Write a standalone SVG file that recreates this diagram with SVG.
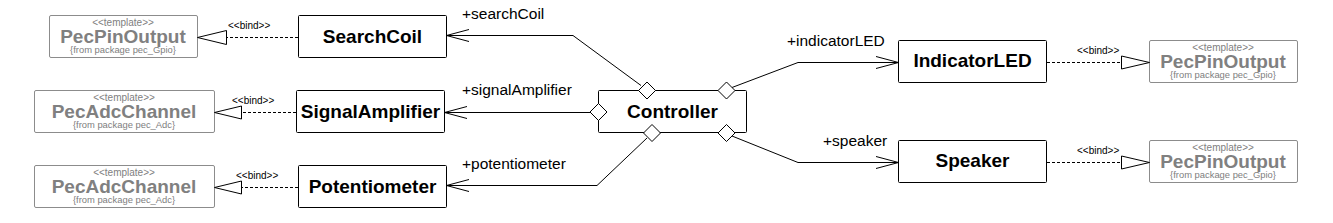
<svg xmlns="http://www.w3.org/2000/svg" width="1333" height="223" viewBox="0 0 1333 223">
<style>
  .node { fill: #ffffff; stroke: #000000; stroke-width: 1; }
  .tpl { fill: #ffffff; stroke: #8c8c8c; stroke-width: 1; }
  .name { font-family: "Liberation Sans", Arial, sans-serif; font-weight: bold; font-size: 19px; fill: #000000; text-anchor: middle; }
  .tname { font-family: "Liberation Sans", Arial, sans-serif; font-weight: bold; font-size: 19px; fill: #808080; text-anchor: middle; }
  .ster { font-family: "Liberation Sans", Arial, sans-serif; font-size: 10px; fill: #808080; text-anchor: middle; }
  .pkg { font-family: "Liberation Sans", Arial, sans-serif; font-size: 9.4px; fill: #808080; text-anchor: middle; }
  .role { font-family: "Liberation Sans", Arial, sans-serif; font-size: 15.5px; fill: #000000; }
  .bind { font-family: "Liberation Sans", Arial, sans-serif; font-size: 10px; fill: #000000; }
  .line { fill: none; stroke: #000000; stroke-width: 1; }
  .dash { fill: none; stroke: #000000; stroke-width: 1; stroke-dasharray: 3 2; }
  .tri { fill: #ffffff; stroke: #000000; stroke-width: 1; }
  .dia { fill: #ffffff; stroke: #000000; stroke-width: 1; }
</style>

<g id="tpl-pinoutput-1">
  <rect class="tpl" x="49.5" y="15.5" width="148" height="42" rx="1.5"/>
  <text class="ster" x="123" y="26">&lt;&lt;template&gt;&gt;</text>
  <text class="tname" x="123" y="42.5">PecPinOutput</text>
  <text class="pkg" x="123" y="53">{from package pec_Gpio}</text>
</g>
<g id="tpl-adcchannel-1">
  <rect class="tpl" x="34.5" y="90.5" width="180" height="42" rx="1.5"/>
  <text class="ster" x="124" y="101">&lt;&lt;template&gt;&gt;</text>
  <text class="tname" x="124" y="117.5">PecAdcChannel</text>
  <text class="pkg" x="124" y="128">{from package pec_Adc}</text>
</g>
<g id="tpl-adcchannel-2">
  <rect class="tpl" x="34.5" y="165.5" width="180" height="42" rx="1.5"/>
  <text class="ster" x="124" y="176">&lt;&lt;template&gt;&gt;</text>
  <text class="tname" x="124" y="192.5">PecAdcChannel</text>
  <text class="pkg" x="124" y="203">{from package pec_Adc}</text>
</g>
<g id="tpl-pinoutput-2">
  <rect class="tpl" x="1149.5" y="40.5" width="148" height="42" rx="1.5"/>
  <text class="ster" x="1223" y="51">&lt;&lt;template&gt;&gt;</text>
  <text class="tname" x="1223" y="67.5">PecPinOutput</text>
  <text class="pkg" x="1223" y="78">{from package pec_Gpio}</text>
</g>
<g id="tpl-pinoutput-3">
  <rect class="tpl" x="1149.5" y="140.5" width="148" height="42" rx="1.5"/>
  <text class="ster" x="1223" y="151">&lt;&lt;template&gt;&gt;</text>
  <text class="tname" x="1223" y="167.5">PecPinOutput</text>
  <text class="pkg" x="1223" y="178">{from package pec_Gpio}</text>
</g>

<g id="SearchCoil">
  <rect class="node" x="298.5" y="15.5" width="148" height="42" rx="1"/>
  <text class="name" x="372.5" y="43">SearchCoil</text>
</g>
<g id="SignalAmplifier">
  <rect class="node" x="296.5" y="90.5" width="148" height="42" rx="1"/>
  <text class="name" x="370.5" y="117.5">SignalAmplifier</text>
</g>
<g id="Potentiometer">
  <rect class="node" x="298.5" y="165.5" width="148" height="42" rx="1"/>
  <text class="name" x="372.5" y="192.5">Potentiometer</text>
</g>
<g id="Controller">
  <rect class="node" x="598.5" y="90.5" width="148" height="42" rx="1"/>
  <text class="name" x="672.5" y="117.5">Controller</text>
</g>
<g id="IndicatorLED">
  <rect class="node" x="898.5" y="40.5" width="148" height="42" rx="1"/>
  <text class="name" x="972.5" y="67">IndicatorLED</text>
</g>
<g id="Speaker">
  <rect class="node" x="898.5" y="140.5" width="148" height="42" rx="1"/>
  <text class="name" x="972.5" y="167">Speaker</text>
</g>

<g id="connectors">
  <!-- bind dependencies -->
  <line class="dash" x1="298" y1="37.5" x2="226.5" y2="37.5"/>
  <polygon class="tri" points="197.5,37.5 226.5,30.5 226.5,44.5"/>
  <text class="bind" x="228" y="29">&lt;&lt;bind&gt;&gt;</text>

  <line class="dash" x1="296" y1="112.5" x2="241.5" y2="112.5"/>
  <polygon class="tri" points="214.5,112.5 241.5,106 241.5,119"/>
  <text class="bind" x="232" y="104">&lt;&lt;bind&gt;&gt;</text>

  <line class="dash" x1="298" y1="187.5" x2="241.5" y2="187.5"/>
  <polygon class="tri" points="214.5,187.5 241.5,181 241.5,194"/>
  <text class="bind" x="236" y="179">&lt;&lt;bind&gt;&gt;</text>

  <line class="dash" x1="1047" y1="62.5" x2="1121.5" y2="62.5"/>
  <polygon class="tri" points="1149.5,62.5 1121.5,56 1121.5,69"/>
  <text class="bind" x="1077" y="54">&lt;&lt;bind&gt;&gt;</text>

  <line class="dash" x1="1047" y1="162.5" x2="1121.5" y2="162.5"/>
  <polygon class="tri" points="1149.5,162.5 1121.5,156 1121.5,169"/>
  <text class="bind" x="1077" y="154">&lt;&lt;bind&gt;&gt;</text>

  <!-- aggregations -->
  <polyline class="line" points="641,85.5 573,35.5 446.5,35.5"/>
  <polyline class="line" points="469,29.5 446.5,35.5 469,41.5"/>
  <text class="role" x="462" y="19">+searchCoil</text>

  <line class="line" x1="590" y1="112.5" x2="444.5" y2="112.5"/>
  <polyline class="line" points="467,106.5 444.5,112.5 467,118.5"/>
  <text class="role" x="462" y="95">+signalAmplifier</text>

  <polyline class="line" points="647,138 597,185.5 446.5,185.5"/>
  <polyline class="line" points="469,179.5 446.5,185.5 469,191.5"/>
  <text class="role" x="462" y="168.5">+potentiometer</text>

  <polyline class="line" points="732,87.5 798,62.5 898.5,62.5"/>
  <polyline class="line" points="876,56.5 898.5,62.5 876,68.5"/>
  <text class="role" x="787" y="45.5">+indicatorLED</text>

  <polyline class="line" points="732,136 798,162.5 898.5,162.5"/>
  <polyline class="line" points="876,156.5 898.5,162.5 876,168.5"/>
  <text class="role" x="823" y="145.5">+speaker</text>

  <polygon class="dia" points="638.5,90.5 647,82 655.5,90.5 647,99"/>
  <polygon class="dia" points="718,90.5 726.5,82 735,90.5 726.5,99"/>
  <polygon class="dia" points="590,112 598.5,103.5 607,112 598.5,120.5"/>
  <polygon class="dia" points="643.5,133 652,124.5 660.5,133 652,141.5"/>
  <polygon class="dia" points="718,133 726.5,124.5 735,133 726.5,141.5"/>
</g>
</svg>
